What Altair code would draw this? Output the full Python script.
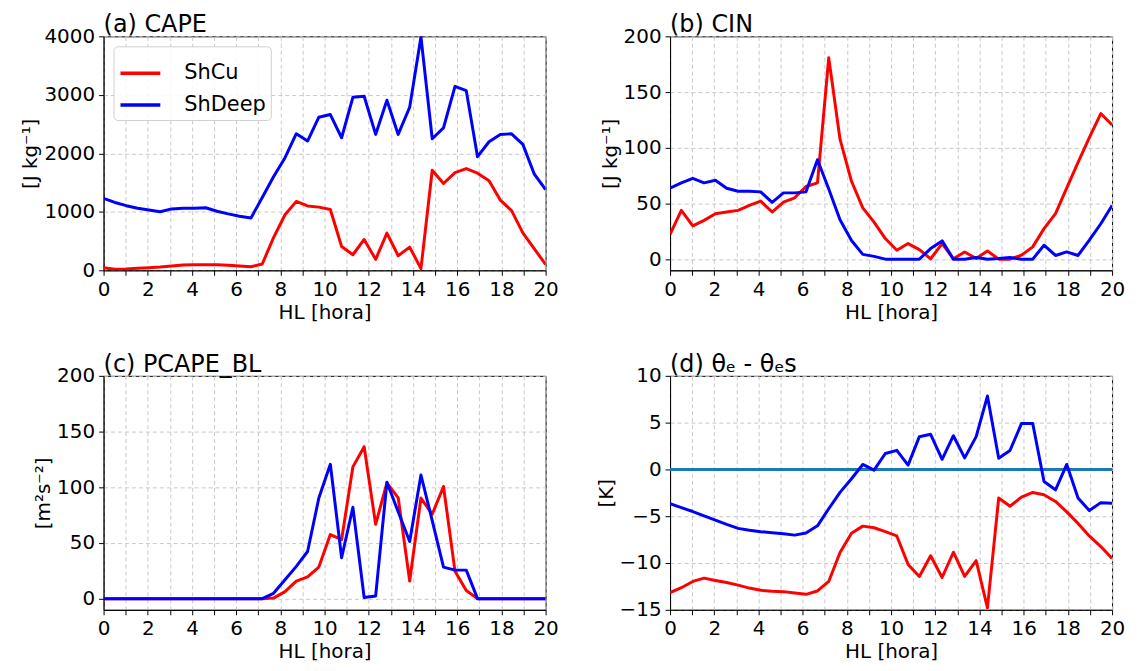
import altair as alt
import pandas as pd

hours = [0.00, 0.51, 1.03, 1.54, 2.05, 2.56, 3.08, 3.59, 4.10, 4.62,
         5.13, 5.64, 6.15, 6.67, 7.18, 7.69, 8.21, 8.72, 9.23, 9.74,
         10.26, 10.77, 11.28, 11.79, 12.31, 12.82, 13.33, 13.85, 14.36, 14.87,
         15.38, 15.90, 16.41, 16.92, 17.44, 17.95, 18.46, 18.97, 19.49, 20.00]

series_names = ["ShCu", "ShDeep"]

cape_shcu = [45, 18, 23, 34, 45, 57, 74, 90, 96, 96,
             96, 85, 74, 62, 108, 560, 950, 1178, 1100, 1080,
             1040, 408, 266, 527, 187, 635, 249, 397, 28, 1711,
             1484, 1671, 1739, 1660, 1530, 1201, 1020, 640, 368, 100]
cape_shdeep = [1230, 1160, 1105, 1060, 1030, 1000, 1050, 1060, 1060, 1070,
               1010, 965, 925, 895, 1245, 1600, 1925, 2335, 2210, 2618,
               2663, 2266, 2958, 2975, 2323, 2907, 2323, 2788, 3990, 2249,
               2436, 3144, 3071, 1943, 2198, 2323, 2334, 2153, 1643, 1380]

cin_shcu = [22.3, 43.8, 29.8, 34.8, 40.8, 42.3, 43.8, 48.2, 52.1, 42.3,
            51.2, 55.1, 65.2, 68.5, 180.7, 107.7, 69.9, 46.1, 33.3, 18.5,
            8.0, 14.0, 8.6, 0.3, 14.0, 0.3, 6.5, 0.6, 7.4, 0.0,
            0.0, 3.6, 11.0, 27.4, 40.8, 64.0, 86.9, 109.0, 130.7, 120.5]
cin_shdeep = [63.7, 68.5, 72.6, 68.5, 70.8, 63.7, 61.0, 61.0, 60.4, 50.9,
              59.5, 59.5, 60.4, 89.3, 63.0, 35.4, 16.7, 4.3, 2.5, 0.0,
              0.0, 0.0, 0.0, 9.5, 16.4, 0.0, 0.0, 1.5, 0.0, 0.6,
              1.5, 0.0, 0.0, 12.5, 3.3, 6.5, 3.3, 17.0, 31.8, 48.2]

pcape_shcu = [0, 0, 0, 0, 0, 0, 0, 0, 0, 0,
              0, 0, 0, 0, 0, 0.5, 6.3, 15.8, 19.5, 28.3,
              57.5, 53.0, 118.3, 136.4, 66.7, 104.0, 90.5, 15.8, 90.3, 75.8,
              100.7, 24.7, 7.3, 0, 0, 0, 0, 0, 0, 0]
pcape_shdeep = [0, 0, 0, 0, 0, 0, 0, 0, 0, 0,
                0, 0, 0, 0, 0, 4.8, 17.0, 29.0, 42.3, 90.3,
                120.6, 36.7, 82.0, 1.0, 2.4, 104.5, 78.0, 51.3, 111.0, 70.0,
                28.3, 25.6, 25.6, 0, 0, 0, 0, 0, 0, 0]

dth_shcu = [-13.17, -12.64, -11.97, -11.62, -11.87, -12.08, -12.36, -12.68, -12.92, -13.03,
            -13.06, -13.20, -13.35, -12.99, -11.97, -8.87, -6.83, -6.06, -6.23, -6.65,
            -7.11, -10.15, -11.44, -9.23, -11.55, -8.85, -11.44, -9.75, -14.80, -3.06,
            -3.94, -2.96, -2.46, -2.71, -3.42, -4.54, -5.77, -7.11, -8.24, -9.51]
dth_shdeep = [-3.66, -4.08, -4.50, -4.96, -5.42, -5.88, -6.30, -6.50, -6.65, -6.76,
              -6.87, -7.02, -6.80, -6.03, -4.20, -2.45, -1.00, 0.53, -0.08, 1.70,
              2.04, 0.46, 3.50, 3.75, 1.08, 3.60, 1.23, 3.50, 7.84, 1.20,
              2.02, 4.90, 4.90, -1.30, -2.18, 0.53, -3.05, -4.40, -3.55, -3.62]

x_ticks = list(range(0, 21))

FONT = "DejaVu Sans"
W, H = 444, 235


def make_panel(title, ytitle, shcu, shdeep, ydomain, yticks, legend=False, zero=False):
    df = pd.DataFrame({
        "hour": hours + hours,
        "value": shcu + shdeep,
        "series": [series_names[0]] * len(hours) + [series_names[1]] * len(hours),
    })
    if legend:
        leg = alt.Legend(
            title=None, orient="top-left", offset=10, symbolType="stroke",
            symbolSize=1600, symbolStrokeWidth=3.5, labelFontSize=21, labelFont=FONT,
            labelColor="black", labelOffset=22, padding=5, rowPadding=-8,
            fillColor="rgba(255,255,255,0.85)", strokeColor="#d0d0d0", cornerRadius=4,
        )
    else:
        leg = None
    base = alt.Chart(df).mark_line(strokeWidth=3, strokeJoin="round", clip=True).encode(
        x=alt.X("hour:Q", scale=alt.Scale(domain=[0, 20], nice=False, zero=False),
                axis=alt.Axis(values=x_ticks, title="HL [hora]",
                              labelExpr="datum.value % 2 == 0 ? datum.label : ''")),
        y=alt.Y("value:Q", scale=alt.Scale(domain=ydomain, nice=False, zero=False),
                axis=alt.Axis(values=yticks, title=ytitle, format="d")),
        color=alt.Color("series:N",
                        scale=alt.Scale(domain=series_names, range=["#ff0000", "#0000ff"]),
                        legend=leg),
        order=alt.Order("hour:Q"),
    )
    if zero:
        rule = alt.Chart(df).mark_rule(color="#1f77b4", strokeWidth=1.5).encode(y=alt.datum(0))
        ch = alt.layer(rule, base)
    else:
        ch = base
    return ch.properties(
        width=W, height=H,
        title=alt.TitleParams(title, anchor="start", frame="group", fontSize=24, font=FONT,
                              fontWeight="normal", color="black", offset=-11),
    )


pa = make_panel("(a) CAPE", "[J kg\u207b\u00b9]", cape_shcu, cape_shdeep,
                [0, 4000], [0, 1000, 2000, 3000, 4000], legend=True)
pb = make_panel("(b) CIN", "[J kg\u207b\u00b9]", cin_shcu, cin_shdeep,
                [-10, 200], [0, 50, 100, 150, 200])
pc = make_panel("(c) PCAPE_BL", "[m\u00b2s\u207b\u00b2]", pcape_shcu, pcape_shdeep,
                [-10, 200], [0, 50, 100, 150, 200])
pd_ = make_panel("(d) \u03b8\u2091 - \u03b8\u2091s", "[K]", dth_shcu, dth_shdeep,
                 [-15, 10], [-15, -10, -5, 0, 5, 10], zero=True)

chart = alt.concat(
    pa, pb, pc, pd_, columns=2, spacing={"row": 106, "column": 125}, bounds="flush"
).resolve_scale(color="independent").resolve_legend(color="independent").configure(
    font=FONT, background="white", padding={"left": 12, "top": 3, "right": 5, "bottom": 5},
).configure_view(
    stroke="black", strokeWidth=1,
).configure_axis(
    labelFont=FONT, titleFont=FONT, labelFontSize=20, titleFontSize=20,
    titleFontWeight="normal", labelColor="black", titleColor="black",
    domainColor="black", tickColor="black", tickSize=5, labelPadding=4,
    grid=True, gridColor="#c8c8c8", gridDash=[4, 3], gridWidth=1,
    labelFlush=False, labelOverlap=False, titlePadding=3,
)

chart.save("out.html", embed_options={"renderer": "svg", "actions": False})
